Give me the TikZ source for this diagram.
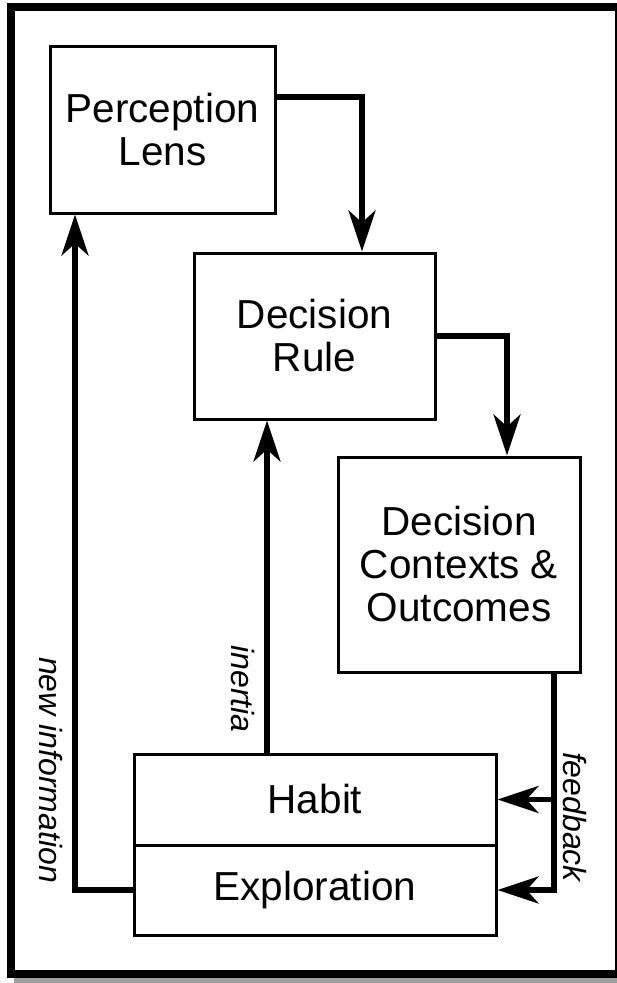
\documentclass[tikz,border=0pt]{standalone}
\usepackage{fontspec}
\setmainfont{Liberation Sans}
\usetikzlibrary{arrows.meta}
\begin{document}
\begin{tikzpicture}[x=1pt,y=-1pt,
  box/.style={draw, line width=3pt, align=center, inner sep=0pt,
    font=\fontsize{40.5}{43}\selectfont},
  flow/.style={line width=5.5pt, line join=miter},
  arr/.style={flow, -{Stealth[length=41pt, width=27pt, inset=12pt]}},
  lbl/.style={inner sep=0pt, rotate=-90, font=\fontsize{32}{36}\selectfont\itshape}]
\useasboundingbox (0,0) rectangle (617,983);
\fill[white] (0,0) rectangle (617,983);
% drop shadow and frame
\fill[black!38] (14,12) rectangle (640,990);
\fill[white] (11,7) rectangle (619,974);
\draw[line width=8pt] (11,7) rectangle (619,974);

% boxes
\node[box, minimum width=225pt, minimum height=167pt] (perc) at (162.5,129.5) {Perception\\Lens};
\node[box, minimum width=241pt, minimum height=166pt] (rule) at (314.5,336) {Decision\\Rule};
\node[box, minimum width=242pt, minimum height=215pt] (ctx) at (459,564.5) {Decision\\Contexts \&\\Outcomes};
\node[box, minimum width=362pt, minimum height=91pt] (habit) at (315,799.5) {Habit};
\node[box, minimum width=362pt, minimum height=90pt] (expl) at (315,890) {Exploration};

% connectors
\draw[arr] (perc.east |- 0,97) -| (rule.north -| 362,0);
\draw[arr] (rule.east) -| (ctx.north -| 507,0);
\draw[arr] (ctx.south -| 554,0) |- (expl.east);
\draw[arr] (habit.east -| 554,0) -- (habit.east);
\draw[arr] (habit.north -| 267,0) -- (rule.south -| 267,0);
\draw[arr] (expl.west) -| (perc.south -| 75,0);

% connector labels
\node[lbl] (newinfo) at (51,770) {new information};
\node[lbl] (inertia) at (242.5,689) {inertia};
\node[lbl] (feedback) at (575,817) {feedback};
\end{tikzpicture}
\end{document}
